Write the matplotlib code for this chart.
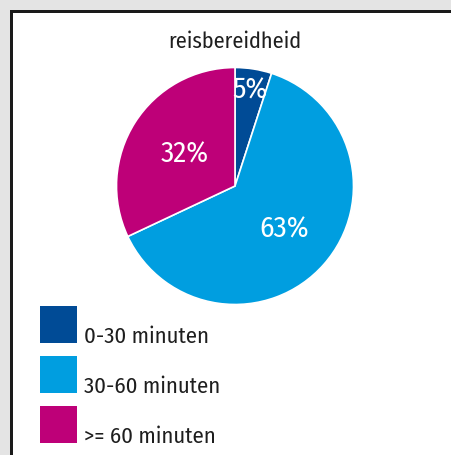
import matplotlib
matplotlib.use("Agg")
import matplotlib.pyplot as plt
from matplotlib.patches import Rectangle

# data
categories = ["0-30 minuten", "30-60 minuten", ">= 60 minuten"]
values = [5, 63, 32]
colors = ["#004b96", "#009ee0", "#be0078"]
title = "reisbereidheid"

plt.rcParams['font.family'] = ['Fira Sans Condensed', 'DejaVu Sans']

W, H = 451, 455
fig = plt.figure(figsize=(W / 100, H / 100), dpi=100)
fig.patch.set_facecolor("white")

def px(x, y, w, h):
    # pixel box (top-left origin) -> figure fraction
    return (x / W, 1 - (y + h) / H, w / W, h / H)

# grey surround and black frame
for box, c in [((0, 0, W, 9.5), "#e4e4e4"), ((0, 0, 10, H), "#e4e4e4"),
               ((10, 9.5, W - 10, 3), "#1a1a1a"), ((10, 9.5, 3, H - 9.5), "#1a1a1a")]:
    x0, y0, w0, h0 = px(*box)
    fig.patches.append(Rectangle((x0, y0), w0, h0, transform=fig.transFigure,
                                 facecolor=c, edgecolor="none"))

# pie
cx, cy, r = 235, 186, 118.5
ax = fig.add_axes(px(cx - r, cy - r, 2 * r, 2 * r))
wedges, texts, autotexts = ax.pie(values, colors=colors, startangle=90, counterclock=False,
                                  autopct=lambda p: "%d%%" % round(p), pctdistance=0.5,
                                  wedgeprops=dict(edgecolor="white", linewidth=1.2),
                                  textprops=dict(color="white", fontsize=21))
ax.set_xlim(-1, 1)
ax.set_ylim(-1, 1)
ax.set_aspect("equal")
ax.axis("off")

# individual label distances
dists = [0.82, 0.55, 0.50]
for t, d in zip(autotexts, dists):
    x, y = t.get_position()
    t.set_position((x / 0.5 * d, y / 0.5 * d))

fig.text(cx / W, 1 - 42 / H, title, ha="center", va="center", fontsize=16, color="#1e1e1e")

# legend
for i, (lab, c) in enumerate(zip(categories, colors)):
    top = 306 + i * 50
    x0, y0, w0, h0 = px(40, top, 37, 37)
    fig.patches.append(Rectangle((x0, y0), w0, h0, transform=fig.transFigure,
                                 facecolor=c, edgecolor="none"))
    fig.text(84 / W, 1 - (top + 37) / H, lab, ha="left", va="baseline",
             fontsize=16.3, color="#1e1e1e")

fig.savefig("out.png", dpi=100)
